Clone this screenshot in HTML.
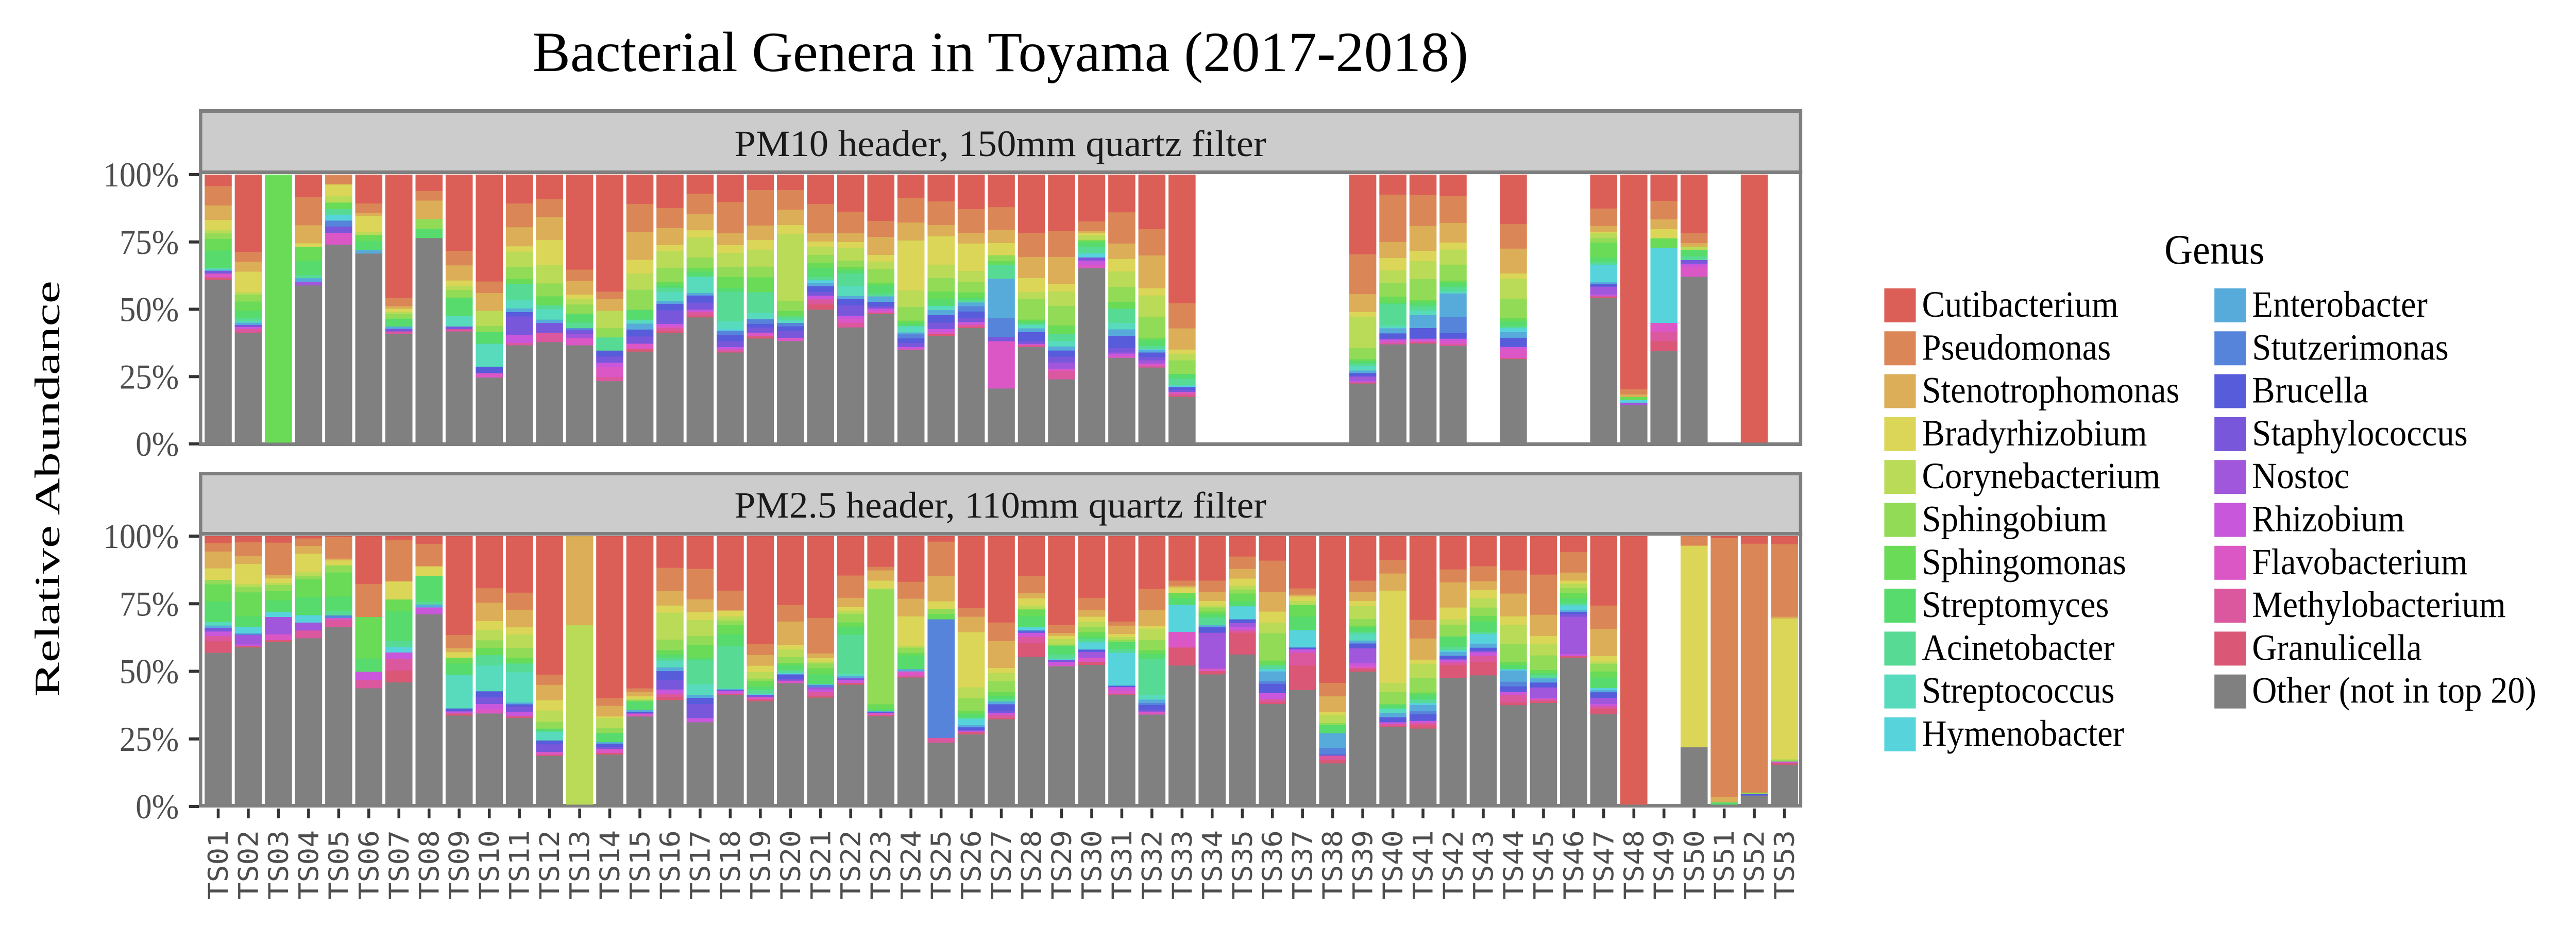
<!DOCTYPE html>
<html><head><meta charset="utf-8"><style>html,body{margin:0;padding:0;background:#fff;width:100%;height:100%;overflow:hidden}svg{display:block;width:100vw;height:100vh}</style></head>
<body>
<svg id="s" xmlns="http://www.w3.org/2000/svg" viewBox="0 0 5400 1800" preserveAspectRatio="none">
<rect width="5400" height="1800" fill="#fff"/>
<text x="2097" y="138" font-family="Liberation Serif, serif" font-size="110" fill="#000" text-anchor="middle" textLength="1962" lengthAdjust="spacingAndGlyphs">Bacterial Genera in Toyama (2017-2018)</text>
<g id="plot"></g>
<text transform="translate(100,949) rotate(-90)" font-family="Liberation Serif, serif" font-size="74" fill="#000" text-anchor="middle" dominant-baseline="central" textLength="808" lengthAdjust="spacingAndGlyphs">Relative Abundance</text>
<g id="legend"></g>
</svg>
<script>
var C=["#DB5F57","#DB8657","#DBAE57","#DBD657","#B9DB57","#91DB57","#69DB57","#57DB6C","#57DB94","#57DBBC","#57D3DB","#57ABDB","#5784DB","#575CDB","#7957DB","#A157DB","#C957DB","#DB57C6","#DB579E","#DB5776"];
var NAMES=["Cutibacterium","Pseudomonas","Stenotrophomonas","Bradyrhizobium","Corynebacterium","Sphingobium","Sphingomonas","Streptomyces","Acinetobacter","Streptococcus","Hymenobacter","Enterobacter","Stutzerimonas","Brucella","Staphylococcus","Nostoc","Rhizobium","Flavobacterium","Methylobacterium","Granulicella"];
var G="#808080";
function P(s){return s.split(",").map(function(t){var a=t.split(":");return [+a[0],+a[1]];});}
var top1={
1:"0:568,1:627,2:671,3:701,4:712,5:729,6:764,7:818,9:822,11:826,14:834,17:846,19:853",
2:"0:768,1:798,2:828,3:891,4:898,5:919,6:948,7:970,8:978,9:983,11:990,14:996,16:1002,18:1013,19:1015",
3:"6:1347",
4:"0:601,1:687,2:742,3:753,6:795,7:838,8:848,11:859,15:870",
5:"1:563,3:599,4:618,6:638,8:655,10:673,12:691,14:710,17:746",
6:"0:621,1:649,2:659,3:707,4:717,6:735,7:763,11:773",
7:"0:908,1:933,2:941,3:951,4:957,5:971,7:995,11:1002,14:1010,18:1018",
8:"0:583,1:612,2:668,5:698,7:726",
9:"0:765,1:809,2:855,3:871,4:884,5:907,7:962,9:995,14:1003,18:1010",
10:"0:858,1:893,2:947,4:993,5:1012,7:1047,9:1117,13:1137,17:1150",
11:"0:621,1:693,2:751,3:767,4:814,5:850,6:866,8:913,9:940,11:951,13:964,14:1020,16:1045,18:1052",
12:"0:608,1:662,2:732,3:808,4:864,5:903,6:930,8:942,9:974,11:984,14:1014,18:1042",
13:"0:822,1:856,2:898,3:911,4:928,5:956,7:983,8:1000,12:1006,14:1018,15:1030,17:1052",
14:"0:889,1:911,2:947,4:1000,5:1028,8:1068,13:1086,14:1105,16:1118,17:1148,18:1161",
15:"0:622,1:707,2:792,3:834,4:883,5:944,7:974,9:986,11:1004,13:1025,14:1047,17:1063,19:1071"};
var top2={
16:"0:235,1:344,2:437,3:470,4:560,5:636,6:652,7:669,8:692,9:742,11:756,13:792,14:865,16:877,17:888,18:905,19:916",
17:"0:157,1:266,2:356,3:395,4:504,5:560,6:580,7:608,9:697,11:711,13:750,14:788,16:800,18:820,19:830",
18:"0:202,1:372,2:437,3:479,4:557,5:610,6:669,7:690,8:851,9:892,10:902,12:927,13:960,14:992,16:1005,18:1018,19:1021",
19:"0:137,1:330,2:409,3:461,4:554,5:612,6:693,8:806,9:840,12:865,13:885,14:913,17:933,19:945",
20:"0:137,1:244,2:328,3:378,4:741,5:795,6:825,8:843,9:860,12:879,13:902,14:941,17:959",
21:"0:213,1:372,2:417,3:448,4:490,5:532,6:563,7:610,8:628,10:644,11:661,13:692,14:712,16:732,18:759,19:788",
22:"0:255,1:372,2:420,3:451,4:521,5:557,6:571,7:591,8:661,9:714,11:731,13:764,14:822,16:840,17:860,18:885",
23:"0:305,1:392,2:490,3:526,4:568,5:641,6:655,7:700,8:716,11:745,13:770,14:782,16:795,17:805,19:811",
24:"0:179,1:314,2:412,3:683,4:773,5:848,6:862,7:878,9:912,11:922,12:944,13:969,14:991,16:1000,17:1005,19:1007",
25:"0:199,1:328,2:389,3:543,4:616,5:689,6:731,7:767,9:790,11:818,13:858,14:893,16:910,17:920,19:930",
26:"0:241,1:370,2:428,3:577,4:636,5:694,6:722,7:736,8:749,11:770,12:798,13:834,14:855,16:870,18:882,19:888",
27:"0:230,1:353,2:426,3:492,5:524,6:543,8:620,11:834,12:938,14:960,17:1217",
28:"0:370,1:501,2:616,3:692,4:731,5:842,6:852,7:868,9:890,11:910,13:958,14:974,16:980,18:990,19:991",
29:"0:361,1:501,2:647,3:689,4:767,5:874,6:920,8:958,9:988,11:1010,13:1044,14:1076,15:1110,17:1122,18:1167",
30:"0:308,1:361,2:372,3:384,4:408,5:412,6:422,7:448,8:482,10:504,14:521,16:543,17:563",
31:"0:258,1:428,2:512,3:580,4:664,5:745,6:783,8:860,9:895,11:930,13:997,14:1021,15:1028,16:1040,17:1050",
32:"0:350,1:493,2:672,3:711,4:826,5:941,6:955,7:985,8:1003,10:1007,11:1021,13:1047,14:1064,15:1082,17:1094,18:1103",
33:"0:753,1:890,2:1005,3:1028,4:1064,5:1138,7:1163,8:1200,10:1210,13:1226,14:1236,17:1245,18:1257,19:1263",
39:"0:487,1:703,2:801,3:826,4:997,5:1058,6:1068,7:1082,8:1095,9:1119,11:1133,13:1152,15:1176,16:1184,19:1190",
40:"0:162,1:420,2:507,3:574,4:644,5:717,6:749,7:759,8:874,9:889,11:917,13:946,14:950,16:960,17:968,18:977",
41:"0:165,1:333,2:468,3:524,4:622,5:734,6:749,7:770,8:793,9:818,11:888,13:946,16:956,17:966,19:973",
42:"0:171,1:316,2:423,3:461,4:543,5:630,6:643,7:666,8:689,9:700,11:829,12:916,13:946,16:958,17:975,18:985",
44:"0:322,1:456,2:591,3:619,4:728,5:832,6:852,7:877,8:889,10:910,11:941,13:991,16:1001,17:1052,19:1057",
47:"0:238,1:333,2:364,3:372,4:400,5:423,6:505,7:529,8:543,10:638,11:648,13:663,15:706,16:716,19:725",
48:"0:1220,1:1249,2:1263,6:1280,10:1294,15:1307",
49:"0:196,1:297,2:350,3:400,6:451,10:860,17:910,18:960,19:1014",
50:"0:372,1:426,2:445,4:462,7:498,8:518,14:538,16:556,17:609",
52:"0:1510"};
var bot1={
1:"0:270,1:298,2:355,3:394,5:409,6:467,7:536,9:548,11:556,14:568,16:583,18:601,19:640",
2:"0:267,1:314,2:340,3:408,4:418,5:436,6:517,7:553,10:575,12:580,15:612,16:617,19:622",
3:"0:268,1:378,2:389,3:404,4:411,5:432,6:463,7:502,10:519,15:578,17:597,19:604",
4:"0:254,1:279,2:305,3:368,4:380,5:392,6:451,7:513,10:538,15:565,18:591",
5:"0:248,1:322,2:328,3:345,5:369,6:450,7:498,8:514,12:523,17:530,18:553",
6:"0:408,1:519,6:659,7:704,16:732,18:760",
7:"0:260,1:399,3:460,6:500,7:599,8:620,10:639,16:660,18:700,19:740",
8:"0:272,1:348,3:380,7:467,8:477,11:487,16:510",
9:"0:580,1:624,2:638,3:657,6:676,7:714,9:828,13:838,16:845,19:852",
10:"0:422,1:471,2:533,3:563,4:598,5:624,6:648,8:683,9:770,13:790,14:813,16:830,17:845",
11:"0:437,1:495,2:554,3:578,4:624,5:657,6:676,8:706,9:808,11:814,13:822,14:840,16:855,19:860",
12:"0:714,1:748,2:800,3:835,4:873,5:896,7:906,9:936,13:949,14:975,17:984,19:988",
13:"2:547,4:1152",
14:"0:793,1:819,2:855,3:860,4:893,5:911,7:942,11:947,13:957,14:966,17:978,19:984",
15:"0:760,1:772,2:787,3:798,5:804,7:833,11:840,13:845,17:855"};
var bot2={
16:"0:232,1:358,2:437,3:476,4:622,5:680,6:703,7:722,8:739,9:773,11:793,13:843,14:893,16:917,18:935,19:951",
17:"0:238,1:403,2:473,3:515,4:602,5:650,6:722,7:734,8:865,9:924,11:938,13:972,14:1048,16:1071",
18:"0:356,1:460,2:468,3:496,4:518,5:543,6:594,7:658,8:888,10:893,13:900,16:916,19:923",
19:"0:647,1:706,2:764,3:798,4:834,5:846,6:876,7:893,8:917,10:924,14:935,17:947,19:957",
20:"0:434,1:524,2:650,3:675,4:717,5:750,6:762,7:787,8:803,10:811,13:836,14:845,17:859",
21:"0:504,1:697,2:722,3:741,4:752,5:778,6:810,7:862,9:867,12:882,15:893,16:907,18:927,19:937",
22:"0:274,1:395,2:445,3:465,4:482,5:529,6:555,7:596,8:808,9:820,11:832,14:840,16:857,19:867",
23:"0:227,1:246,2:302,3:344,4:349,5:973,6:1000,7:1011,11:1016,13:1021,17:1032,19:1039",
24:"0:308,1:400,2:496,3:655,4:666,5:694,6:708,7:782,11:795,17:822,19:828",
25:"0:90,1:277,2:414,3:456,5:484,6:512,12:1156,18:1181",
26:"0:451,1:498,2:582,3:881,4:941,5:1008,6:1028,7:1048,9:1056,10:1086,11:1098,13:1116,16:1124,19:1137",
27:"0:529,1:630,2:776,3:804,4:848,5:907,6:927,7:945,8:958,11:973,13:1008,14:1020,16:1030,18:1048,19:1055",
28:"0:277,1:370,2:398,3:437,4:455,5:459,6:496,7:553,10:571,12:578,13:585,16:606,18:642,19:717",
29:"0:543,1:586,2:602,3:619,4:649,5:655,7:703,8:728,10:733,14:743,16:761,17:767",
30:"0:395,1:462,2:498,3:526,4:554,5:582,6:605,7:620,8:637,10:676,13:689,15:720,17:745,19:759",
31:"0:524,1:546,2:592,3:608,4:622,5:636,7:674,8:694,10:872,13:880,16:898,17:916,19:921",
32:"0:347,1:462,2:549,3:563,4:624,5:680,6:700,7:728,8:923,9:948,11:966,12:977,13:1002,14:1013,17:1029",
33:"0:302,1:330,2:339,3:368,6:397,7:433,10:580,17:665,19:763",
34:"0:302,1:364,2:412,3:437,4:448,5:470,6:486,7:503,8:544,11:553,13:585,15:780,17:793,19:811",
35:"0:171,1:238,2:291,3:330,4:350,5:372,6:414,7:441,10:512,13:532,15:555,16:572,18:585,19:703",
36:"0:193,1:364,2:470,3:530,4:588,5:736,6:760,8:782,10:795,11:848,12:862,13:913,16:944,18:962,19:972",
37:"0:344,1:378,2:388,3:412,4:434,6:498,7:571,10:665,13:675,16:692,18:763,19:896",
38:"0:857,1:930,2:1016,3:1033,4:1075,5:1086,7:1131,11:1210,12:1246,13:1252,18:1274,19:1294",
39:"0:302,1:364,2:412,3:440,4:510,5:546,6:557,7:580,8:592,9:627,11:643,13:670,15:750,16:765,17:779,19:796",
40:"0:190,1:263,2:356,3:857,4:907,5:974,7:996,9:1020,11:1044,13:1071,16:1081,18:1090,19:1096",
41:"0:515,1:616,2:731,3:753,4:829,5:909,6:920,7:946,8:966,10:977,11:1011,12:1028,13:1063,16:1074,18:1088,19:1105",
42:"0:241,1:311,2:448,3:512,4:543,5:605,7:661,8:680,10:689,11:710,13:730,16:746,18:759,19:830",
43:"0:224,1:305,2:353,3:398,4:448,5:493,6:523,7:580,8:592,10:644,11:666,13:686,15:692,16:710,18:745,19:816",
44:"0:246,1:372,2:496,3:543,4:647,5:745,6:760,7:783,10:790,11:851,12:876,13:906,16:923,18:963,19:978",
45:"0:269,1:487,2:602,3:644,4:708,5:787,6:804,7:815,8:832,11:855,13:882,15:938,16:946,18:956,19:966",
46:"0:146,1:258,2:302,3:319,4:342,5:370,6:397,7:424,8:436,10:461,11:472,13:484,14:498,15:700,16:712,19:720",
47:"0:437,1:563,2:711,3:741,4:753,5:795,6:828,7:885,10:897,11:908,13:938,15:972,16:984,18:997,19:1028",
48:"0:1517",
50:"1:112,3:1207",
51:"0:70,1:1476,2:1506,7:1517",
52:"0:101,1:1453,5:1461,13:1469",
53:"0:104,1:498,2:508,3:1273,5:1284,16:1292,19:1301"};
var plot=document.getElementById("plot");
var out=[];
var X0=429,PITCH=63.14,BW=56.8;
function bars(data,zt,zb,yTop,yBot){
 for(var k in data){
  var x=X0+(k-1)*PITCH, segs=P(data[k]), prev=zt, H=yBot-yTop;
  function Y(z){var v=(zb-z)/(zb-zt); if(v<0)v=0; if(v>1)v=1; return yBot-v*H;}
  segs.forEach(function(s){var a=Y(prev),b=Y(s[1]); if(b>a) out.push('<rect x="'+x.toFixed(1)+'" y="'+a.toFixed(1)+'" width="'+BW+'" height="'+(b-a+0.4).toFixed(1)+'" fill="'+C[s[0]]+'"/>'); if(s[1]>prev)prev=s[1];});
  var a=Y(prev); if(yBot-a>0.5) out.push('<rect x="'+x.toFixed(1)+'" y="'+a.toFixed(1)+'" width="'+BW+'" height="'+(yBot-a).toFixed(1)+'" fill="'+G+'"/>');
 }
}
function panel(st,sb,pb,label,ty){
 out.push('<rect x="420.5" y="'+(st+3.5)+'" width="3354" height="'+(sb-st-7)+'" fill="#cccccc" stroke="#7f7f7f" stroke-width="7"/>');
 out.push('<rect x="420.5" y="'+(sb-3.5)+'" width="3354" height="'+(pb-sb)+'" fill="#ffffff" stroke="#7f7f7f" stroke-width="7"/>');
 out.push('<text x="2097" y="'+ty+'" font-family="Liberation Serif, serif" font-size="72" fill="#1a1a1a" text-anchor="middle" textLength="1115" lengthAdjust="spacingAndGlyphs">'+label+'</text>');
}
panel(212,338,866,"PM10 header, 150mm quartz filter",303);
panel(916,1040,1568,"PM2.5 header, 110mm quartz filter",1005);
bars(top1,533,1347,339,859);
bars(top2,53,1510,339,859);
bars(bot1,246,1152,1041,1562);
bars(bot2,60,1517,1041,1562);
function yt(yTop,yBot){
 ["0%","25%","50%","75%","100%"].forEach(function(l,i){var y=yBot-i*0.25*(yBot-yTop);
  out.push('<rect x="396" y="'+(y-3).toFixed(1)+'" width="21" height="6" fill="#333"/>');
  out.push('<text x="375" y="'+(y+23).toFixed(1)+'" font-family="Liberation Serif, serif" font-size="68" fill="#4d4d4d" text-anchor="end">'+l+'</text>');});
}
yt(339,862); yt(1041,1566);
for(var k=1;k<=53;k++){var cx=X0+(k-1)*PITCH+BW/2;
 out.push('<rect x="'+(cx-3).toFixed(1)+'" y="1570" width="6" height="19" fill="#333"/>');
 var lab="TS"+(k<10?"0":"")+k;
 out.push('<text transform="translate('+(cx+20).toFixed(1)+',1612) rotate(-90)" font-family="DejaVu Sans Mono, Liberation Mono, monospace" font-size="57" fill="#4d4d4d" text-anchor="end" textLength="135" lengthAdjust="spacingAndGlyphs">'+lab+'</text>');}
plot.innerHTML=out.join("");
var L=['<text x="4642" y="512" font-family="Liberation Serif, serif" font-size="82" fill="#000" text-anchor="middle">Genus</text>'];
var items=NAMES.map(function(n,i){return [n,C[i]];}); items.push(["Other (not in top 20)",G]);
items.forEach(function(it,i){var col=i<11?0:1,row=i<11?i:i-11; var x=col?4642:3950, y=560+row*83.3;
 L.push('<rect x="'+x+'" y="'+y.toFixed(1)+'" width="66" height="66" fill="'+it[1]+'"/>');
 L.push('<text x="'+(x+79)+'" y="'+(y+55).toFixed(1)+'" font-family="Liberation Serif, serif" font-size="72" fill="#000">'+it[0]+'</text>');});
document.getElementById("legend").innerHTML=L.join("");
</script>
</body></html>
